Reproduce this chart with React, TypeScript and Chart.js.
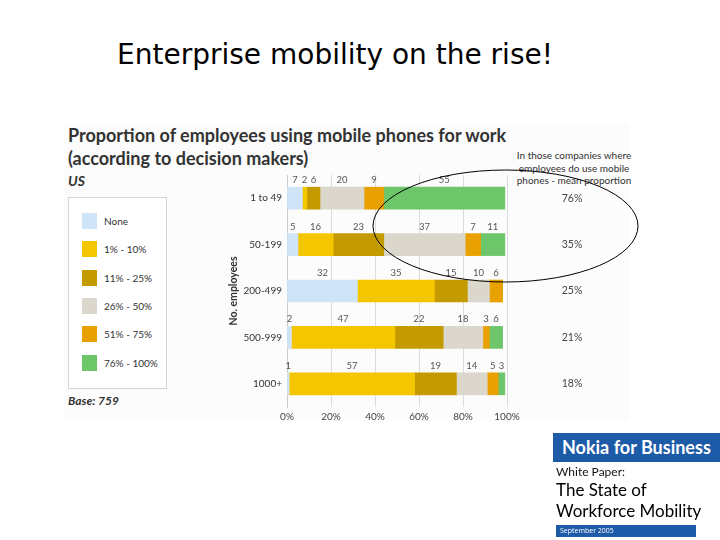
import React, { useEffect, useRef } from "react";
import { Chart, registerables } from "chart.js";

Chart.register(...registerables);

const categories = ["1 to 49", "50-199", "200-499", "500-999", "1000+"];
const seriesLabels = ["None", "1% - 10%", "11% - 25%", "26% - 50%", "51% - 75%", "76% - 100%"];
const noneValues = [7, 5, 32, 2, 1];
const p1to10Values = [2, 16, 35, 47, 57];
const p11to25Values = [6, 23, 15, 22, 19];
const p26to50Values = [20, 37, 10, 18, 14];
const p51to75Values = [9, 7, 6, 3, 5];
const p76to100Values = [55, 11, 0, 6, 3];
const seriesColors = ["#cfe4f6", "#f4c600", "#c39b00", "#dbd7cd", "#e8a100", "#6dc66a"];
const meanProportion = ["76%", "35%", "25%", "21%", "18%"];
const xTickValues = [0, 20, 40, 60, 80, 100];

const seriesValues = [noneValues, p1to10Values, p11to25Values, p26to50Values, p51to75Values, p76to100Values];

const FONT = "Lato, 'Open Sans', sans-serif";

const overlayPlugin = {
  id: "overlay",
  afterDatasetsDraw(chart: any) {
    const ctx = chart.ctx;
    ctx.save();
    ctx.font = `9.5px ${FONT}`;
    ctx.fillStyle = "#555";
    ctx.textAlign = "center";
    ctx.textBaseline = "middle";
    chart.data.datasets.forEach((ds: any, i: number) => {
      const meta = chart.getDatasetMeta(i);
      meta.data.forEach((bar: any, j: number) => {
        const v = ds.data[j];
        if (!v) return;
        const cx = (bar.x + bar.base) / 2;
        const cy = bar.y - bar.height / 2 - 7;
        ctx.fillText(String(v), cx, cy);
      });
    });
    const yScale = chart.scales.y;
    ctx.font = `10.5px ${FONT}`;
    ctx.fillStyle = "#444";
    meanProportion.forEach((m, j) => {
      ctx.fillText(m, 572, yScale.getPixelForValue(j));
    });
    ctx.restore();
  },
  afterDraw(chart: any) {
    const ctx = chart.ctx;
    ctx.save();
    ctx.strokeStyle = "#000";
    ctx.lineWidth = 1;
    ctx.beginPath();
    ctx.ellipse(505.5, 226, 132.5, 56, 0, 0, Math.PI * 2);
    ctx.stroke();
    ctx.restore();
  },
};

export default function App() {
  const ref = useRef<HTMLCanvasElement | null>(null);

  useEffect(() => {
    if (!ref.current) return;
    const chart = new Chart(ref.current, {
      type: "bar",
      data: {
        labels: categories,
        datasets: seriesValues.map((vals, i) => ({
          label: seriesLabels[i],
          data: vals,
          backgroundColor: seriesColors[i],
          borderWidth: 0,
          barThickness: 22,
        })),
      },
      options: {
        indexAxis: "y",
        animation: false,
        responsive: false,
        maintainAspectRatio: false,
        layout: { padding: { left: 227, right: 213, top: 175, bottom: 115 } },
        plugins: {
          legend: { display: false },
          tooltip: { enabled: false },
          title: { display: false },
        },
        scales: {
          x: {
            stacked: true,
            min: 0,
            max: 100,
            afterFit: (s: any) => {
              s.height = 18;
            },
            afterBuildTicks: (s: any) => {
              s.ticks = xTickValues.map((v) => ({ value: v }));
            },
            ticks: {
              callback: (v: any) => `${v}%`,
              font: { family: FONT, size: 10 },
              color: "#444",
              padding: 4,
              maxRotation: 0,
            },
            grid: { color: "#dcdcdc", drawTicks: false },
            border: { display: false },
          },
          y: {
            stacked: true,
            afterFit: (s: any) => {
              s.width = 60;
            },
            ticks: {
              font: { family: FONT, size: 10 },
              color: "#333",
              padding: 5,
            },
            grid: { display: false, drawTicks: false },
            border: { display: true, color: "#cccccc" },
            title: {
              display: true,
              text: "No. employees",
              font: { family: FONT, size: 10.5, weight: "bold" },
              color: "#333",
              padding: 0,
            },
          },
        },
      },
      plugins: [overlayPlugin],
    });
    return () => chart.destroy();
  }, []);

  const abs = (s: React.CSSProperties): React.CSSProperties => ({ position: "absolute", whiteSpace: "nowrap", ...s });

  return (
    <div style={{ position: "absolute", left: 0, top: 0, width: 720, height: 540, background: "#fff", overflow: "hidden", fontFamily: FONT }}>
      <div style={abs({ left: 64, top: 122, width: 566, height: 300, background: "#fcfcfc" })} />
      <div style={abs({ left: 0, top: 35, width: 670, textAlign: "center", fontFamily: "'DejaVu Sans', sans-serif", fontSize: 28, color: "#000", lineHeight: "40px" })}>
        Enterprise mobility on the rise!
      </div>
      <div style={abs({ left: 68, top: 124, fontSize: 18, fontWeight: "bold", color: "#333", lineHeight: "23px" })}>
        Proportion of employees using mobile phones for work
        <br />
        (according to decision makers)
      </div>
      <div style={abs({ left: 68, top: 172, fontSize: 14, fontWeight: "bold", fontStyle: "italic", color: "#333", lineHeight: "18px" })}>US</div>
      <div style={abs({ left: 514, top: 149, width: 120, textAlign: "center", fontSize: 10, color: "#333", lineHeight: "12.5px", whiteSpace: "normal" })}>
        In those companies where employees do use mobile phones - mean proportion
      </div>
      <div style={abs({ left: 68, top: 197, width: 99, height: 192, border: "1px solid #d4d4d4", background: "#fff", boxSizing: "border-box" })}>
        {seriesLabels.map((l, i) => (
          <div key={l} style={abs({ left: 13, top: 15 + i * 28.3, height: 16, display: "flex", alignItems: "center" })}>
            <span style={{ display: "inline-block", width: 15, height: 16, background: seriesColors[i] }} />
            <span style={{ marginLeft: 7, fontSize: 10, color: "#333" }}>{l}</span>
          </div>
        ))}
      </div>
      <div style={abs({ left: 68, top: 393, fontSize: 12, fontWeight: "bold", fontStyle: "italic", color: "#333", lineHeight: "16px" })}>Base: 759</div>
      <canvas ref={ref} width={720} height={540} style={{ position: "absolute", left: 0, top: 0, width: 720, height: 540 }} />
      <div style={abs({ left: 553, top: 433, width: 167, height: 29, background: "#1d5ba8", color: "#fff", fontWeight: "bold", fontSize: 18, lineHeight: "29px", paddingLeft: 9, boxSizing: "border-box", fontFamily: "Lato, sans-serif", overflow: "hidden" })}>
        Nokia for Business
      </div>
      <div style={abs({ left: 556, top: 464, fontSize: 12, color: "#111", lineHeight: "16px", fontFamily: "Lato, sans-serif" })}>White Paper:</div>
      <div style={abs({ left: 556, top: 479, fontSize: 17, color: "#000", lineHeight: "21px", fontFamily: "Lato, sans-serif" })}>
        The State of
        <br />
        Workforce Mobility
      </div>
      <div style={abs({ left: 556, top: 525, width: 140, height: 12, background: "#1d5ba8", color: "#fff", fontSize: 7, lineHeight: "12px", paddingLeft: 4, boxSizing: "border-box", fontFamily: "'Open Sans', sans-serif" })}>
        September 2005
      </div>
    </div>
  );
}
